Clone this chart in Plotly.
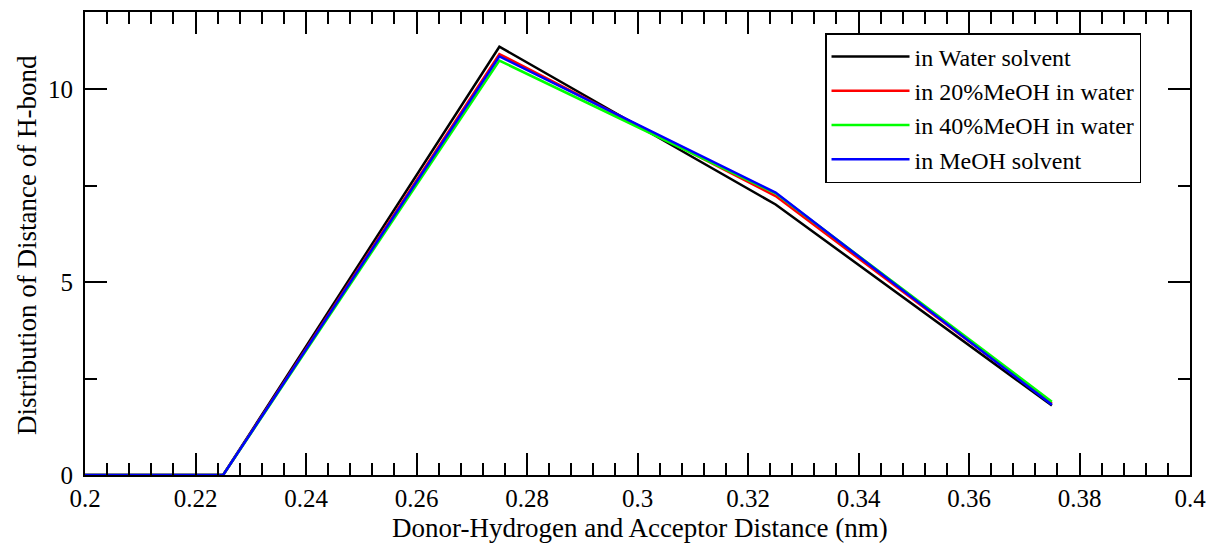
import plotly.graph_objects as go

x = [0.175, 0.225, 0.275, 0.325, 0.375]
water = [0.0, 0.0, 11.10, 7.01, 1.80]
meoh20 = [0.0, 0.0, 10.91, 7.23, 1.85]
meoh40 = [0.0, 0.0, 10.74, 7.30, 1.90]
meoh = [0.0, 0.0, 10.85, 7.32, 1.82]

names = ["in Water solvent", "in 20%MeOH in water", "in 40%MeOH in water", "in MeOH solvent"]
colors = ["#000000", "#ff0000", "#00ff00", "#0000ff"]
series = [water, meoh20, meoh40, meoh]

x_title = "Donor-Hydrogen and Acceptor Distance (nm)"
y_title = "Distribution of Distance of H-bond"

fig = go.Figure()
for nm, col, ys in zip(names, colors, series):
    fig.add_trace(go.Scatter(x=x, y=ys, mode="lines", name=nm,
                             line=dict(color=col, width=2.5)))

font = "Liberation Serif"
axis_common = dict(showgrid=False, zeroline=False, showline=True, linecolor="black",
                   linewidth=2, mirror="ticks", ticks="inside", tickcolor="black",
                   tickwidth=2, ticklen=22, automargin=False,
                   tickfont=dict(family=font, size=25, color="black"))

fig.update_xaxes(range=[0.2, 0.4], dtick=0.02, tick0=0.2,
                 minor=dict(dtick=0.004, ticks="inside", ticklen=12, tickwidth=2, tickcolor="black"),
                 ticklabelstandoff=0,
                 **axis_common)
fig.update_yaxes(range=[0, 12], dtick=5, tick0=0,
                 minor=dict(dtick=2.5, ticks="inside", ticklen=12, tickwidth=2, tickcolor="black"),
                 ticklabelstandoff=5,
                 **axis_common)

fig.add_annotation(text=x_title, xref="paper", yref="paper", x=0.5023, y=-0.1145,
                   xanchor="center", yanchor="middle", showarrow=False,
                   font=dict(family=font, size=27, color="black"))
fig.add_annotation(text=y_title, xref="paper", yref="paper", x=-0.0525, y=0.4968,
                   xanchor="center", yanchor="middle", showarrow=False, textangle=-90,
                   font=dict(family=font, size=27, color="black"))

fig.update_layout(
    width=1212, height=543,
    margin=dict(l=85, r=22, t=12, b=68),
    plot_bgcolor="white", paper_bgcolor="white",
    legend=dict(x=0.6697, y=0.9546, xanchor="left", yanchor="top",
                bordercolor="black", borderwidth=1.5, bgcolor="white",
                font=dict(family=font, size=24, color="black"),
                itemwidth=78, tracegroupgap=0),
)

fig.write_html("out.html")
